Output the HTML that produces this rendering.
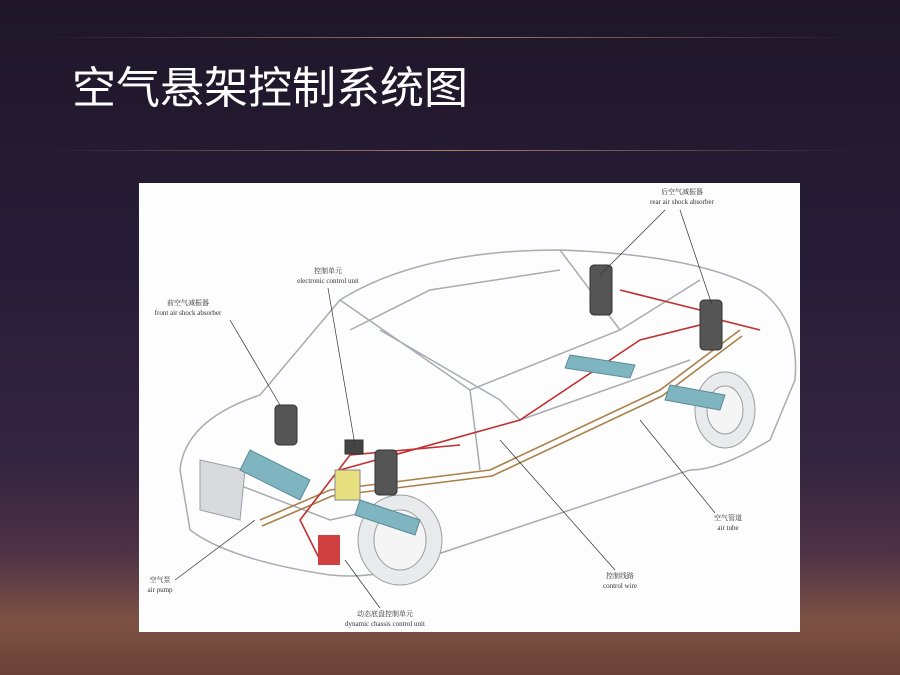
<!DOCTYPE html>
<html><head><meta charset="utf-8"><style>
body{margin:0;width:900px;height:675px;overflow:hidden;font-family:"Liberation Sans","Noto Sans CJK SC",sans-serif;
background:linear-gradient(180deg,#1e1628 0%,#281d38 40%,#33243f 68%,#4e3246 82%,#7d5244 92%,#6a4238 100%);position:relative}
.ln{position:absolute;left:40px;width:820px;height:1px;background:linear-gradient(90deg,rgba(255,255,255,0),rgba(220,160,130,.75) 50%,rgba(255,255,255,0))}
h1{position:absolute;left:72px;top:64px;margin:0;font-weight:normal;color:#fff;font-size:44px;letter-spacing:0px;font-family:"Liberation Sans","Noto Sans CJK SC",sans-serif;line-height:50px}
.panel{position:absolute;left:139px;top:183px;width:661px;height:449px;background:#fdfdfd}
</style></head><body>
<div class="ln" style="top:37px"></div>
<div class="ln" style="top:150px"></div>
<h1>空气悬架控制系统图</h1>
<div class="panel">
<svg width="661" height="449" viewBox="139 183 661 449" font-family="Liberation Serif,Noto Serif CJK SC,serif" font-size="7" fill="#333">
<g fill="none" stroke="#a8acb2" stroke-width="1.5">
<path d="M180 470 Q185 420 260 395 L340 300 Q420 250 560 250 Q700 255 760 290 Q800 320 795 380 L770 440 Q720 470 690 470"/>
<path d="M180 470 L190 530 Q230 560 330 575 Q380 580 420 560 L690 470"/>
<path d="M340 300 L470 390 L620 330 L700 280"/>
<path d="M380 330 L500 400"/>
<path d="M200 470 L330 520 L420 500"/>
<path d="M560 250 L620 330"/>
<path d="M470 390 L480 470"/>
<path d="M350 330 L430 290 L560 270"/>
<path d="M500 400 L520 420 L690 360"/>
</g>
<g fill="#e8eaec" stroke="#9a9ea4">
<ellipse cx="400" cy="540" rx="42" ry="45"/><ellipse cx="400" cy="540" rx="26" ry="30" fill="#f5f5f5"/>
<ellipse cx="725" cy="410" rx="30" ry="38"/><ellipse cx="725" cy="410" rx="18" ry="24" fill="#f5f5f5"/>
<path d="M200 460 L245 470 L240 520 L200 510Z" fill="#d8dadd"/>
</g>
<g fill="none" stroke-width="1.6">
<path d="M260 520 L330 490 L490 470 L660 390 L740 330" stroke="#a88048"/>
<path d="M262 526 L332 496 L492 476 L662 396 L742 336" stroke="#a88048"/>
<path d="M340 470 L520 420 L640 340 L720 320 L760 330" stroke="#c03030"/>
<path d="M320 560 L300 520 L350 455 L460 445" stroke="#c03030"/>
<path d="M620 290 L700 310" stroke="#c03030"/>
</g>
<g fill="#444" stroke="#333">
<rect x="275" y="405" width="22" height="40" rx="4" fill="#555"/>
<rect x="375" y="450" width="22" height="45" rx="4" fill="#555"/>
<rect x="590" y="265" width="22" height="50" rx="4" fill="#555"/>
<rect x="700" y="300" width="22" height="50" rx="4" fill="#555"/>
<rect x="345" y="440" width="18" height="14"/>
</g>
<g fill="#7fb5c0" stroke="#5a8a96">
<path d="M250 450 L310 480 L300 500 L240 470Z"/>
<path d="M360 500 L420 520 L415 535 L355 515Z"/>
<path d="M570 355 L635 365 L630 378 L565 368Z"/>
<path d="M670 385 L725 395 L720 410 L665 400Z"/>
</g>
<rect x="318" y="535" width="22" height="30" fill="#d04040"/>
<rect x="335" y="470" width="25" height="30" fill="#e8e080" stroke="#888"/>
<g stroke="#333" stroke-width="0.7" fill="none">
<path d="M230 320 L280 405"/><path d="M328 288 L355 445"/><path d="M665 210 L600 275"/><path d="M680 210 L712 305"/>
<path d="M715 513 L640 420"/><path d="M615 570 L500 440"/><path d="M380 608 L345 560"/><path d="M175 580 L255 520"/>
</g>
<g text-anchor="middle">
<text x="188" y="305">前空气减振器</text><text x="188" y="315">front air shock absorber</text>
<text x="328" y="273">控制单元</text><text x="328" y="283">electronic control unit</text>
<text x="682" y="194">后空气减振器</text><text x="682" y="204">rear air shock absorber</text>
<text x="728" y="520">空气管道</text><text x="728" y="530">air tube</text>
<text x="620" y="578">控制线路</text><text x="620" y="588">control wire</text>
<text x="160" y="582">空气泵</text><text x="160" y="592">air pump</text>
<text x="385" y="616">动态底盘控制单元</text><text x="385" y="626">dynamic chassis control unit</text>
</g>
</svg>
</div>
</body></html>
